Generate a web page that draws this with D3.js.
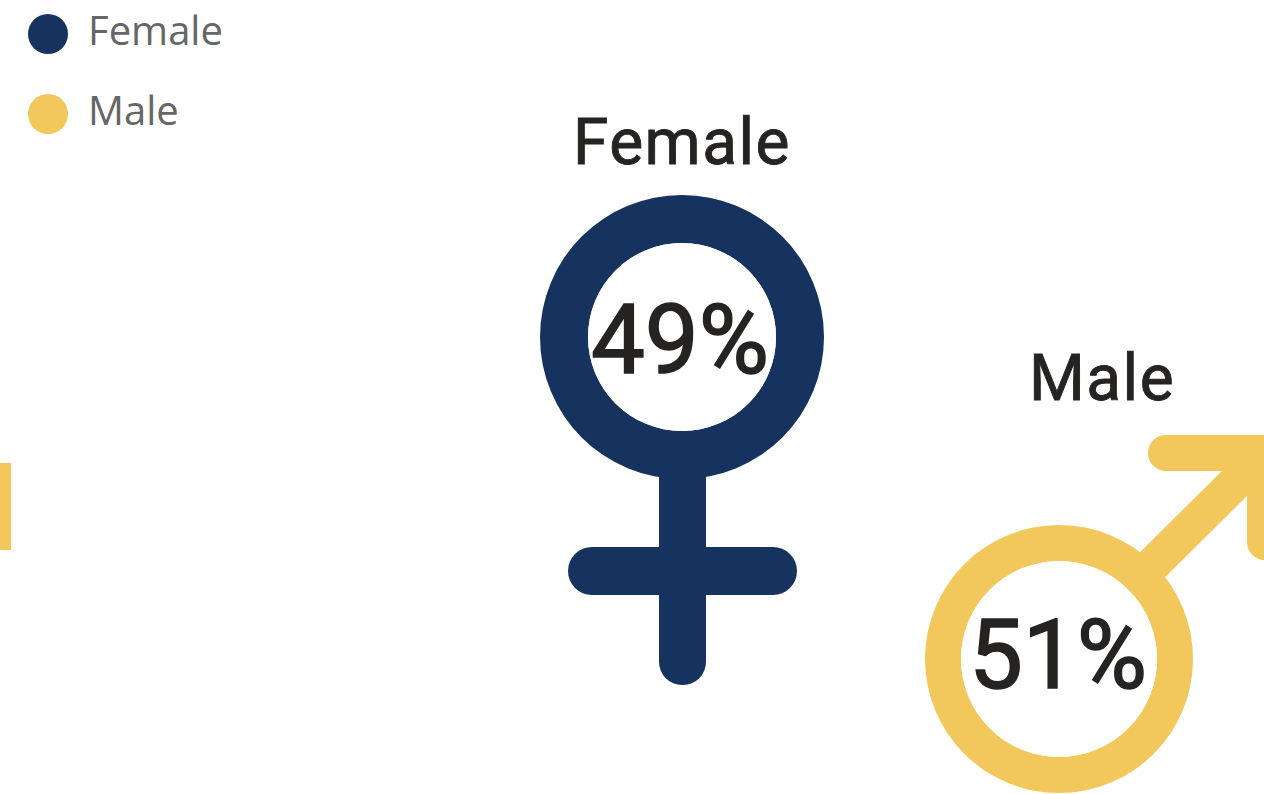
<!DOCTYPE html>
<html>
<head>
<meta charset="utf-8">
<script src="https://cdn.jsdelivr.net/npm/d3@7/dist/d3.min.js"></script>
<style>
html, body { margin: 0; padding: 0; background: #fff; overflow: hidden; }
svg { display: block; }
</style>
</head>
<body>
<script>
var categories = ["Female", "Male"];
var shares = [49, 51];

var width = 1264, height = 794;
var navy = "#15335e", yellow = "#f2c75c";
var titleColor = "#252423", legendColor = "#666666";
var labelFont = "Roboto, sans-serif", legendFont = "'Open Sans', sans-serif";

var color = d3.scaleOrdinal().domain(categories).range([navy, yellow]);
// legend rows
var legendY = d3.scalePoint().domain(categories).range([34, 114]);
// title and ring placement of each icon
var titleX = d3.scaleOrdinal().domain(categories).range([682, 1102]);
var titleY = d3.scaleOrdinal().domain(categories).range([164, 400]);
var ringX = d3.scaleOrdinal().domain(categories).range([682, 1059]);
var ringY = d3.scaleOrdinal().domain(categories).range([337, 659]);
var ringOuter = d3.scaleOrdinal().domain(categories).range([142, 134]);
var ringInner = d3.scaleOrdinal().domain(categories).range([94, 98]);
var valueX = d3.scaleOrdinal().domain(categories).range([680, 1058]);
var valueY = d3.scaleOrdinal().domain(categories).range([373, 688]);

var svg = d3.select("body").append("svg")
    .attr("width", width)
    .attr("height", height);

// yellow sliver on the left edge
svg.append("rect")
    .attr("x", 0).attr("y", 463)
    .attr("width", 11).attr("height", 87)
    .style("fill", yellow);

// female cross
var female = svg.append("g").style("fill", color("Female"));
female.append("rect")
    .attr("x", 659).attr("y", 440)
    .attr("width", 47).attr("height", 245)
    .attr("rx", 23);
female.append("rect")
    .attr("x", 568).attr("y", 547)
    .attr("width", 229).attr("height", 48)
    .attr("rx", 24);

// male arrow, runs off the right edge like the original
var arrow = d3.path();
arrow.moveTo(1120, 572);
arrow.lineTo(1222, 471);
arrow.lineTo(1166, 471);
arrow.arc(1166, 453, 18, Math.PI / 2, -Math.PI / 2);
arrow.lineTo(1300, 435);
arrow.lineTo(1300, 560);
arrow.lineTo(1265, 560);
arrow.arc(1265, 542, 18, Math.PI / 2, Math.PI);
arrow.lineTo(1247, 496);
arrow.lineTo(1145, 597);
arrow.closePath();
svg.append("path")
    .attr("d", arrow.toString())
    .style("fill", color("Male"));

// rings
var arc = d3.arc().startAngle(0).endAngle(2 * Math.PI);
svg.selectAll(".ring").data(categories).enter().append("path")
    .attr("class", "ring")
    .attr("transform", function(d) { return "translate(" + ringX(d) + "," + ringY(d) + ")"; })
    .attr("d", function(d) { return arc({innerRadius: ringInner(d), outerRadius: ringOuter(d)}); })
    .style("fill", function(d) { return color(d); });
// white hole so the male arrow does not show inside
svg.selectAll(".hole").data(categories).enter().append("circle")
    .attr("class", "hole")
    .attr("cx", function(d) { return ringX(d); })
    .attr("cy", function(d) { return ringY(d); })
    .attr("r", function(d) { return ringInner(d); })
    .style("fill", "#fff");

// titles, thin stroke to get the weight between regular and medium
svg.selectAll(".title").data(categories).enter().append("text")
    .attr("class", "title")
    .attr("x", function(d) { return titleX(d); })
    .attr("y", function(d) { return titleY(d); })
    .attr("text-anchor", "middle")
    .style("font-family", labelFont)
    .style("font-size", "64px")
    .style("letter-spacing", "1.5px")
    .style("stroke", titleColor)
    .style("stroke-width", "0.9px")
    .style("fill", titleColor)
    .text(function(d) { return d; });

// percentages
svg.selectAll(".value").data(categories).enter().append("text")
    .attr("class", "value")
    .attr("x", function(d) { return valueX(d); })
    .attr("y", function(d) { return valueY(d); })
    .attr("text-anchor", "middle")
    .style("font-family", labelFont)
    .style("font-size", "96px")
    .style("stroke", titleColor)
    .style("stroke-width", "1.6px")
    .style("fill", titleColor)
    .text(function(d, i) { return shares[i] + "%"; });

// legend
svg.selectAll(".dot").data(categories).enter().append("circle")
    .attr("class", "dot")
    .attr("cx", 48)
    .attr("cy", function(d) { return legendY(d); })
    .attr("r", 20)
    .style("fill", function(d) { return color(d); });
svg.selectAll(".legend").data(categories).enter().append("text")
    .attr("class", "legend")
    .attr("x", 88)
    .attr("y", function(d) { return legendY(d) + 11; })
    .style("font-family", legendFont)
    .style("font-size", "40px")
    .style("fill", legendColor)
    .text(function(d) { return d; });
</script>
</body>
</html>
